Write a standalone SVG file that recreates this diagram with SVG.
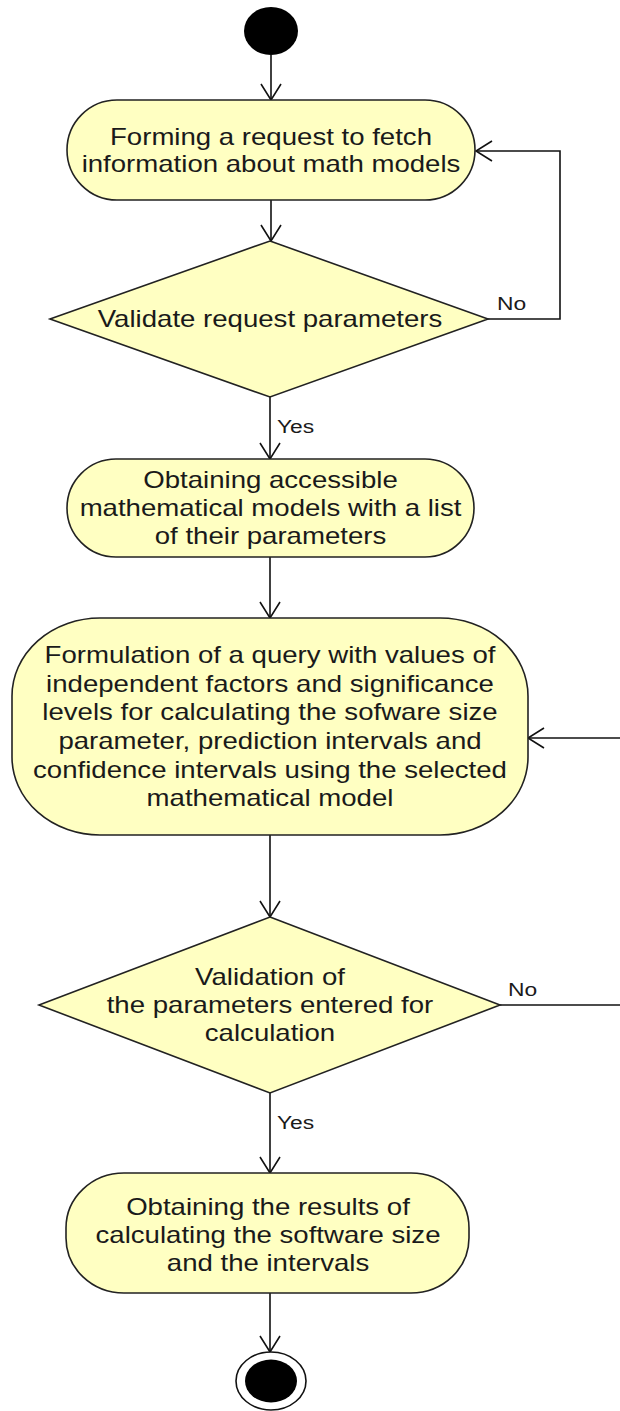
<svg xmlns="http://www.w3.org/2000/svg" width="620" height="1411" viewBox="0 0 620 1411">
<style>
.node{fill:#ffffc2;stroke:#222;stroke-width:1.6}
.t{font-family:"Liberation Sans",Arial,sans-serif;font-size:23px;fill:#1a1a1a;text-anchor:middle}
.lbl{font-family:"Liberation Sans",Arial,sans-serif;font-size:19px;fill:#1a1a1a}
.c{fill:none;stroke:#111;stroke-width:1.6}
</style>
<defs>
<marker id="arr" viewBox="-17 -11 19 22" refX="0" refY="0" markerWidth="19" markerHeight="22" markerUnits="userSpaceOnUse" orient="auto">
<path d="M-16,-10 L0,0 L-16,10" fill="none" stroke="#111" stroke-width="1.6"/>
</marker>
</defs>
<rect width="620" height="1411" fill="#fff"/>
<g id="connectors">
<line class="c" x1="271" y1="55" x2="271" y2="100" marker-end="url(#arr)"/>
<line class="c" x1="271" y1="200" x2="271" y2="241" marker-end="url(#arr)"/>
<polyline class="c" points="488,319 560,319 560,151 476,151" marker-end="url(#arr)"/>
<line class="c" x1="270" y1="397" x2="270" y2="459" marker-end="url(#arr)"/>
<line class="c" x1="270" y1="557" x2="270" y2="618" marker-end="url(#arr)"/>
<line class="c" x1="270" y1="835" x2="270" y2="917" marker-end="url(#arr)"/>
<line class="c" x1="500" y1="1005" x2="620" y2="1005"/>
<line class="c" x1="620" y1="738" x2="528" y2="738" marker-end="url(#arr)"/>
<line class="c" x1="270" y1="1093" x2="270" y2="1173" marker-end="url(#arr)"/>
<line class="c" x1="270" y1="1293" x2="270" y2="1352" marker-end="url(#arr)"/>
<text class="lbl" x="497" y="310" transform="translate(497,0) scale(1.2,1) translate(-497,0)">No</text>
<text class="lbl" x="277" y="433" transform="translate(277,0) scale(1.2,1) translate(-277,0)">Yes</text>
<text class="lbl" x="508" y="996" transform="translate(508,0) scale(1.2,1) translate(-508,0)">No</text>
<text class="lbl" x="277" y="1129" transform="translate(277,0) scale(1.2,1) translate(-277,0)">Yes</text>
</g>
<g id="start">
<ellipse cx="271" cy="31" rx="27" ry="24" fill="#000"/>
</g>
<g id="form-request">
<rect class="node" x="67" y="100" width="408" height="100" rx="50" ry="50"/>
<g transform="translate(271,0) scale(1.2,1)">
<text class="t" x="0" y="145">Forming a request to fetch</text>
<text class="t" x="0" y="172">information about math models</text>
</g>
</g>
<g id="validate-request">
<polygon class="node" points="270,241 488,319 270,397 50,319"/>
<g transform="translate(270,0) scale(1.2,1)">
<text class="t" x="0" y="327">Validate request parameters</text>
</g>
</g>
<g id="obtain-models">
<rect class="node" x="67" y="459" width="407" height="98" rx="49" ry="49"/>
<g transform="translate(270.5,0) scale(1.2,1)">
<text class="t" x="0" y="488">Obtaining accessible</text>
<text class="t" x="0" y="516">mathematical models with a list</text>
<text class="t" x="0" y="544">of their parameters</text>
</g>
</g>
<g id="formulate-query">
<rect class="node" x="12" y="618" width="516" height="217" rx="88" ry="78"/>
<g transform="translate(270,0) scale(1.2,1)">
<text class="t" x="0" y="663">Formulation of a query with values of</text>
<text class="t" x="0" y="692">independent factors and significance</text>
<text class="t" x="0" y="720">levels for calculating the sofware size</text>
<text class="t" x="0" y="749">parameter, prediction intervals and</text>
<text class="t" x="0" y="778">confidence intervals using the selected</text>
<text class="t" x="0" y="806">mathematical model</text>
</g>
</g>
<g id="validate-params">
<polygon class="node" points="270,917 500,1005 270,1093 39,1005"/>
<g transform="translate(270,0) scale(1.2,1)">
<text class="t" x="0" y="985">Validation of</text>
<text class="t" x="0" y="1013">the parameters entered for</text>
<text class="t" x="0" y="1041">calculation</text>
</g>
</g>
<g id="obtain-results">
<rect class="node" x="66" y="1173" width="403" height="120" rx="58" ry="55"/>
<g transform="translate(268,0) scale(1.2,1)">
<text class="t" x="0" y="1215">Obtaining the results of</text>
<text class="t" x="0" y="1243">calculating the software size</text>
<text class="t" x="0" y="1271">and the intervals</text>
</g>
</g>
<g id="end">
<ellipse cx="271" cy="1381" rx="35" ry="29" fill="#fff" stroke="#111" stroke-width="1.6"/>
<ellipse cx="271" cy="1381" rx="26" ry="21.5" fill="#000"/>
</g>
</svg>
